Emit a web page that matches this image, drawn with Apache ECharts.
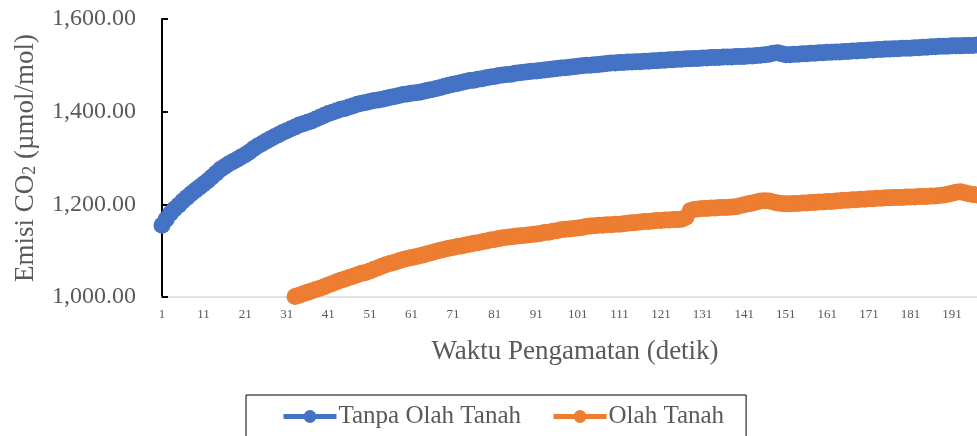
<!DOCTYPE html>
<html>
<head>
<meta charset="utf-8">
<script src="https://cdn.jsdelivr.net/npm/echarts@6/dist/echarts.min.js"></script>
<style>
html,body{margin:0;padding:0;background:#fff;}
#chart{width:977px;height:436px;}
</style>
</head>
<body>
<div id="chart"></div>
<script>
// Category labels: observation seconds 1..197
const categories = Array.from({length: 197}, (_, i) => String(i + 1));

const seriesNames = ['Tanpa Olah Tanah', 'Olah Tanah'];

// Tanpa Olah Tanah (seconds 1..197)
const tanpaOlah = [
1155,1168,1180,1190,1198,1207,1215,1223,1230,1237,
1244,1251,1259,1267,1275,1281,1287,1292,1297,1302,
1307,1313,1320,1326,1331,1336,1341,1346,1350,1355,
1359,1363,1367,1371,1374,1377,1380,1384,1388,1392,
1396,1399,1402,1405,1407,1410,1413,1416,1418,1420,
1422,1424,1425,1427,1429,1431,1433,1435,1437,1438,
1440,1441,1442,1444,1446,1448,1450,1452,1455,1457,
1459,1461,1463,1465,1467,1468,1470,1471,1473,1475,
1476,1478,1479,1480,1481,1483,1484,1485,1486,1487,
1488,1489,1490,1491,1492,1493,1494,1495,1496,1497,
1498,1499,1500,1500,1501,1502,1503,1504,1505,1505,
1506,1506,1507,1507,1508,1508,1509,1509,1510,1510,
1511,1511,1512,1512,1513,1513,1514,1514,1515,1515,
1516,1516,1517,1517,1517,1518,1518,1518,1519,1519,
1519,1520,1520,1521,1522,1523,1524,1526,1527,1525,
1523,1523,1524,1524,1525,1525,1526,1526,1527,1527,
1528,1528,1529,1529,1530,1530,1531,1531,1532,1532,
1533,1533,1534,1534,1535,1535,1536,1536,1537,1537,
1537,1538,1538,1539,1539,1540,1540,1541,1541,1541,
1542,1542,1542,1543,1543,1543,1544
];

// Olah Tanah (seconds 1..197; no readings before second 33)
const olahTanah = [
null,null,null,null,null,null,null,null,null,null,
null,null,null,null,null,null,null,null,null,null,
null,null,null,null,null,null,null,null,null,null,
null,null,1001,1004,1007,1010,1013,1016,1019,1022,
1026,1029,1033,1036,1039,1042,1045,1048,1051,1053,
1056,1060,1063,1067,1070,1073,1075,1078,1081,1083,
1085,1087,1089,1091,1094,1096,1099,1101,1103,1105,
1107,1109,1110,1112,1114,1116,1117,1119,1121,1123,
1124,1126,1128,1129,1130,1131,1132,1133,1134,1135,
1136,1137,1139,1140,1142,1143,1145,1146,1147,1148,
1149,1150,1152,1153,1154,1155,1155,1156,1156,1157,
1157,1158,1159,1160,1161,1162,1163,1163,1164,1165,
1165,1166,1166,1167,1167,1168,1172,1186,1189,1190,
1191,1191,1192,1192,1193,1193,1193,1194,1195,1197,
1199,1201,1203,1205,1207,1208,1207,1205,1203,1202,
1201,1201,1202,1202,1203,1203,1204,1204,1205,1205,
1206,1206,1207,1208,1209,1209,1210,1210,1211,1211,
1212,1212,1213,1213,1214,1214,1215,1215,1215,1216,
1216,1216,1217,1217,1217,1218,1218,1219,1220,1222,
1224,1226,1227,1225,1223,1221,1220
];

const yTicks = [1000, 1200, 1400, 1600];

const FONT = "'Liberation Serif', 'Times New Roman', serif";
const GREY = '#595959';

const chart = echarts.init(document.getElementById('chart'), null, {renderer: 'canvas'});
chart.setOption({
  animation: false,
  backgroundColor: '#ffffff',
  textStyle: {fontFamily: FONT},
  grid: {left: 162, right: 0, top: 19, bottom: 139, containLabel: false},
  legend: {
    left: 246, top: 395,
    padding: [9, 22, 30, 35],
    borderColor: '#000', borderWidth: 1,
    itemWidth: 53, itemHeight: 16, itemGap: 30,
    lineStyle: {width: 5},
    textStyle: {fontFamily: FONT, fontSize: 25, color: GREY, padding: [0,0,0,-3]},
    data: seriesNames
  },
  xAxis: {
    type: 'category',
    data: categories,
    boundaryGap: false,
    name: 'Waktu Pengamatan (detik)',
    nameLocation: 'middle',
    nameGap: 41,
    nameTextStyle: {fontFamily: FONT, fontSize: 27, color: GREY, padding: [0, 0, 0, 11]},
    axisLine: {show: true, lineStyle: {color: '#d9d9d9', width: 1.5}},
    axisTick: {show: false},
    axisLabel: {interval: 9, fontFamily: FONT, fontSize: 13, color: GREY, margin: 11},
    splitLine: {show: false}
  },
  yAxis: {
    type: 'value',
    min: yTicks[0], max: yTicks[yTicks.length - 1], interval: 200,
    name: 'Emisi CO{sub|2} (µmol/mol)',
    nameLocation: 'middle',
    nameGap: 123,
    nameTextStyle: {
      fontFamily: FONT, fontSize: 27, color: GREY,
      rich: {sub: {fontFamily: FONT, fontSize: 18, color: GREY, verticalAlign: 'bottom', padding: [8, 0, 0, 0]}}
    },
    axisLine: {show: true, lineStyle: {color: '#000', width: 2}},
    axisTick: {show: true, inside: true, length: 6, lineStyle: {color: '#000', width: 2}},
    axisLabel: {
      fontFamily: FONT, fontSize: 24, color: GREY, margin: 26,
      formatter: v => v.toLocaleString('en-US', {minimumFractionDigits: 2, maximumFractionDigits: 2})
    },
    splitLine: {show: false}
  },
  series: [
    {
      name: seriesNames[0], type: 'line', data: tanpaOlah,
      symbol: 'circle', symbolSize: 17, showAllSymbol: true,
      color: '#4472C4',
      lineStyle: {color: '#4472C4', width: 8},
      itemStyle: {color: '#4472C4'}
    },
    {
      name: seriesNames[1], type: 'line', data: olahTanah,
      symbol: 'circle', symbolSize: 17, showAllSymbol: true,
      color: '#ED7D31',
      lineStyle: {color: '#ED7D31', width: 8},
      itemStyle: {color: '#ED7D31'}
    }
  ]
});
</script>
</body>
</html>
